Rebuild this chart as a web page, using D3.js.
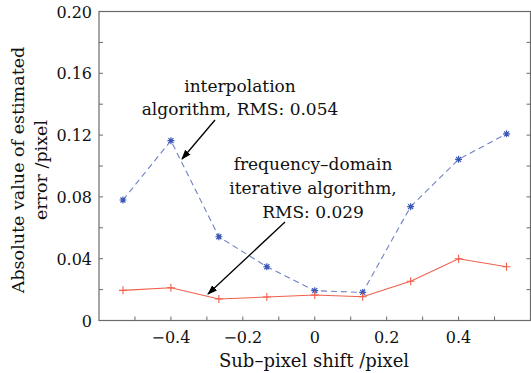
<!DOCTYPE html>
<html>
<head>
<meta charset="utf-8">
<script src="https://cdn.jsdelivr.net/npm/d3@7"></script>
</head>
<body style="margin:0; background:#fff">
<svg id="chart" width="531" height="373"></svg>
<script>
// shift values along x, one per measurement
var shifts = [-8/15, -6/15, -4/15, -2/15, 0, 2/15, 4/15, 6/15, 8/15];
// error for the interpolation method (blue, dashed)
var interp_err = [0.078, 0.1164, 0.0542, 0.0348, 0.0193, 0.0182, 0.0737, 0.1043, 0.1208];
// error for the frequency-domain iterative method (red, solid)
var freq_err = [0.0195, 0.0212, 0.0139, 0.0152, 0.0165, 0.0154, 0.0254, 0.0400, 0.0348];

var x_ticks = [-0.4, -0.2, 0, 0.2, 0.4];
var x_minor = [-0.5, -0.4, -0.3, -0.2, -0.1, 0, 0.1, 0.2, 0.3, 0.4, 0.5];
var y_ticks = [0, 0.04, 0.08, 0.12, 0.16, 0.20];
var y_minor = [0.02, 0.04, 0.06, 0.08, 0.10, 0.12, 0.14, 0.16, 0.18];

var svg = d3.select("#chart");
var FONT = "'DejaVu Serif', 'Noto Serif', serif";
// note: "top" is taken by window.top, so use plot_* names
var plot_l = 99, plot_r = 530.5, plot_t = 11.5, plot_b = 320.5;

var x = d3.scaleLinear().domain([-0.6, 0.6]).range([plot_l, plot_r]);
var y = d3.scaleLinear().domain([0, 0.2]).range([plot_b, plot_t]);

var frame_color = "#6a6a6a";

// every label goes through this so the serif face sticks
function label(sel, size) {
    return sel.style("font-family", FONT)
        .style("font-size", size + "px")
        .attr("fill", "#111");
}

// frame
svg.append("rect")
    .attr("x", plot_l).attr("y", plot_t)
    .attr("width", plot_r - plot_l).attr("height", plot_b - plot_t)
    .attr("fill", "none").attr("stroke", frame_color).attr("stroke-width", 1.2);

// inward ticks
svg.append("g").selectAll("line").data(x_minor).enter().append("line")
    .attr("x1", function (d) { return x(d); }).attr("x2", function (d) { return x(d); })
    .attr("y1", plot_b).attr("y2", plot_b - 4)
    .attr("stroke", frame_color);
svg.append("g").selectAll("line").data(y_minor).enter().append("line")
    .attr("x1", plot_l).attr("x2", plot_l + 4)
    .attr("y1", function (d) { return y(d); }).attr("y2", function (d) { return y(d); })
    .attr("stroke", frame_color);
svg.append("g").selectAll("line").data(y_minor).enter().append("line")
    .attr("x1", plot_r).attr("x2", plot_r - 4)
    .attr("y1", function (d) { return y(d); }).attr("y2", function (d) { return y(d); })
    .attr("stroke", frame_color);

// tick labels
var fmt_x = function (d) { return d === 0 ? "0" : d3.format(".1f")(d).replace("-", "\u2212"); };
var fmt_y = function (d) { return d === 0 ? "0" : d3.format(".2f")(d); };

label(svg.append("g").selectAll("text").data(x_ticks).enter().append("text"), 16)
    .attr("x", function (d) { return x(d); }).attr("y", 343)
    .attr("text-anchor", "middle")
    .text(fmt_x);
label(svg.append("g").selectAll("text").data(y_ticks).enter().append("text"), 16)
    .attr("x", 92).attr("y", function (d) { return y(d) + 6; })
    .attr("text-anchor", "end")
    .text(fmt_y);

// axis titles
label(svg.append("text"), 18)
    .attr("x", 314).attr("y", 367)
    .attr("text-anchor", "middle")
    .text("Sub\u2013pixel shift /pixel");

var ylab = label(svg.append("text"), 17.5)
    .attr("transform", "translate(24,170) rotate(-90)")
    .attr("text-anchor", "middle");
ylab.append("tspan").attr("x", 0).attr("y", 0).text("Absolute value of estimated");
ylab.append("tspan").attr("x", 0).attr("y", 23).text("error /pixel");

// series lines
var line_interp = d3.line()
    .x(function (d, i) { return x(shifts[i]); })
    .y(function (d) { return y(d); });

svg.append("path")
    .attr("d", line_interp(interp_err))
    .attr("fill", "none").attr("stroke", "#6f82c4")
    .attr("stroke-width", 1.1).attr("stroke-dasharray", "6,4");

svg.append("path")
    .attr("d", line_interp(freq_err))
    .attr("fill", "none").attr("stroke", "#f0604c")
    .attr("stroke-width", 1.1);

// asterisk markers for interpolation
var stars = svg.append("g").selectAll("g").data(interp_err).enter().append("g")
    .attr("transform", function (d, i) { return "translate(" + x(shifts[i]) + "," + y(d) + ")"; });
stars.append("path")
    .attr("d", "M-3.5,0H3.5M0,-3.5V3.5M-2.5,-2.5L2.5,2.5M-2.5,2.5L2.5,-2.5")
    .attr("stroke", "#3a57b8").attr("stroke-width", 1.2);
stars.append("circle").attr("r", 1.6).attr("fill", "#3a57b8");

// plus markers for frequency-domain
svg.append("g").selectAll("path").data(freq_err).enter().append("path")
    .attr("transform", function (d, i) { return "translate(" + x(shifts[i]) + "," + y(d) + ")"; })
    .attr("d", "M-4,0H4M0,-4V4")
    .attr("stroke", "#f0604c").attr("stroke-width", 1.1);

// annotations
var defs = svg.append("defs");
defs.append("marker")
    .attr("id", "arrow").attr("viewBox", "0 0 10 10")
    .attr("refX", 9).attr("refY", 5)
    .attr("markerWidth", 10).attr("markerHeight", 10)
    .attr("markerUnits", "userSpaceOnUse")
    .attr("orient", "auto")
  .append("path").attr("d", "M0,1.5L10,5L0,8.5Z").attr("fill", "#000");

var note1 = label(svg.append("text"), 17).attr("text-anchor", "middle");
note1.append("tspan").attr("x", 240).attr("y", 92).text("interpolation");
note1.append("tspan").attr("x", 240).attr("y", 115).text("algorithm, RMS: 0.054");

svg.append("line")
    .attr("x1", 215).attr("y1", 120).attr("x2", 182).attr("y2", 159)
    .attr("stroke", "#000").attr("stroke-width", 1.3)
    .attr("marker-end", "url(#arrow)");

var note2 = label(svg.append("text"), 17).attr("text-anchor", "middle");
note2.append("tspan").attr("x", 313).attr("y", 170).text("frequency\u2013domain");
note2.append("tspan").attr("x", 313).attr("y", 194).text("iterative algorithm,");
note2.append("tspan").attr("x", 313).attr("y", 218).text("RMS: 0.029");

svg.append("line")
    .attr("x1", 285).attr("y1", 222).attr("x2", 208).attr("y2", 294)
    .attr("stroke", "#000").attr("stroke-width", 1.3)
    .attr("marker-end", "url(#arrow)");
</script>
</body>
</html>
